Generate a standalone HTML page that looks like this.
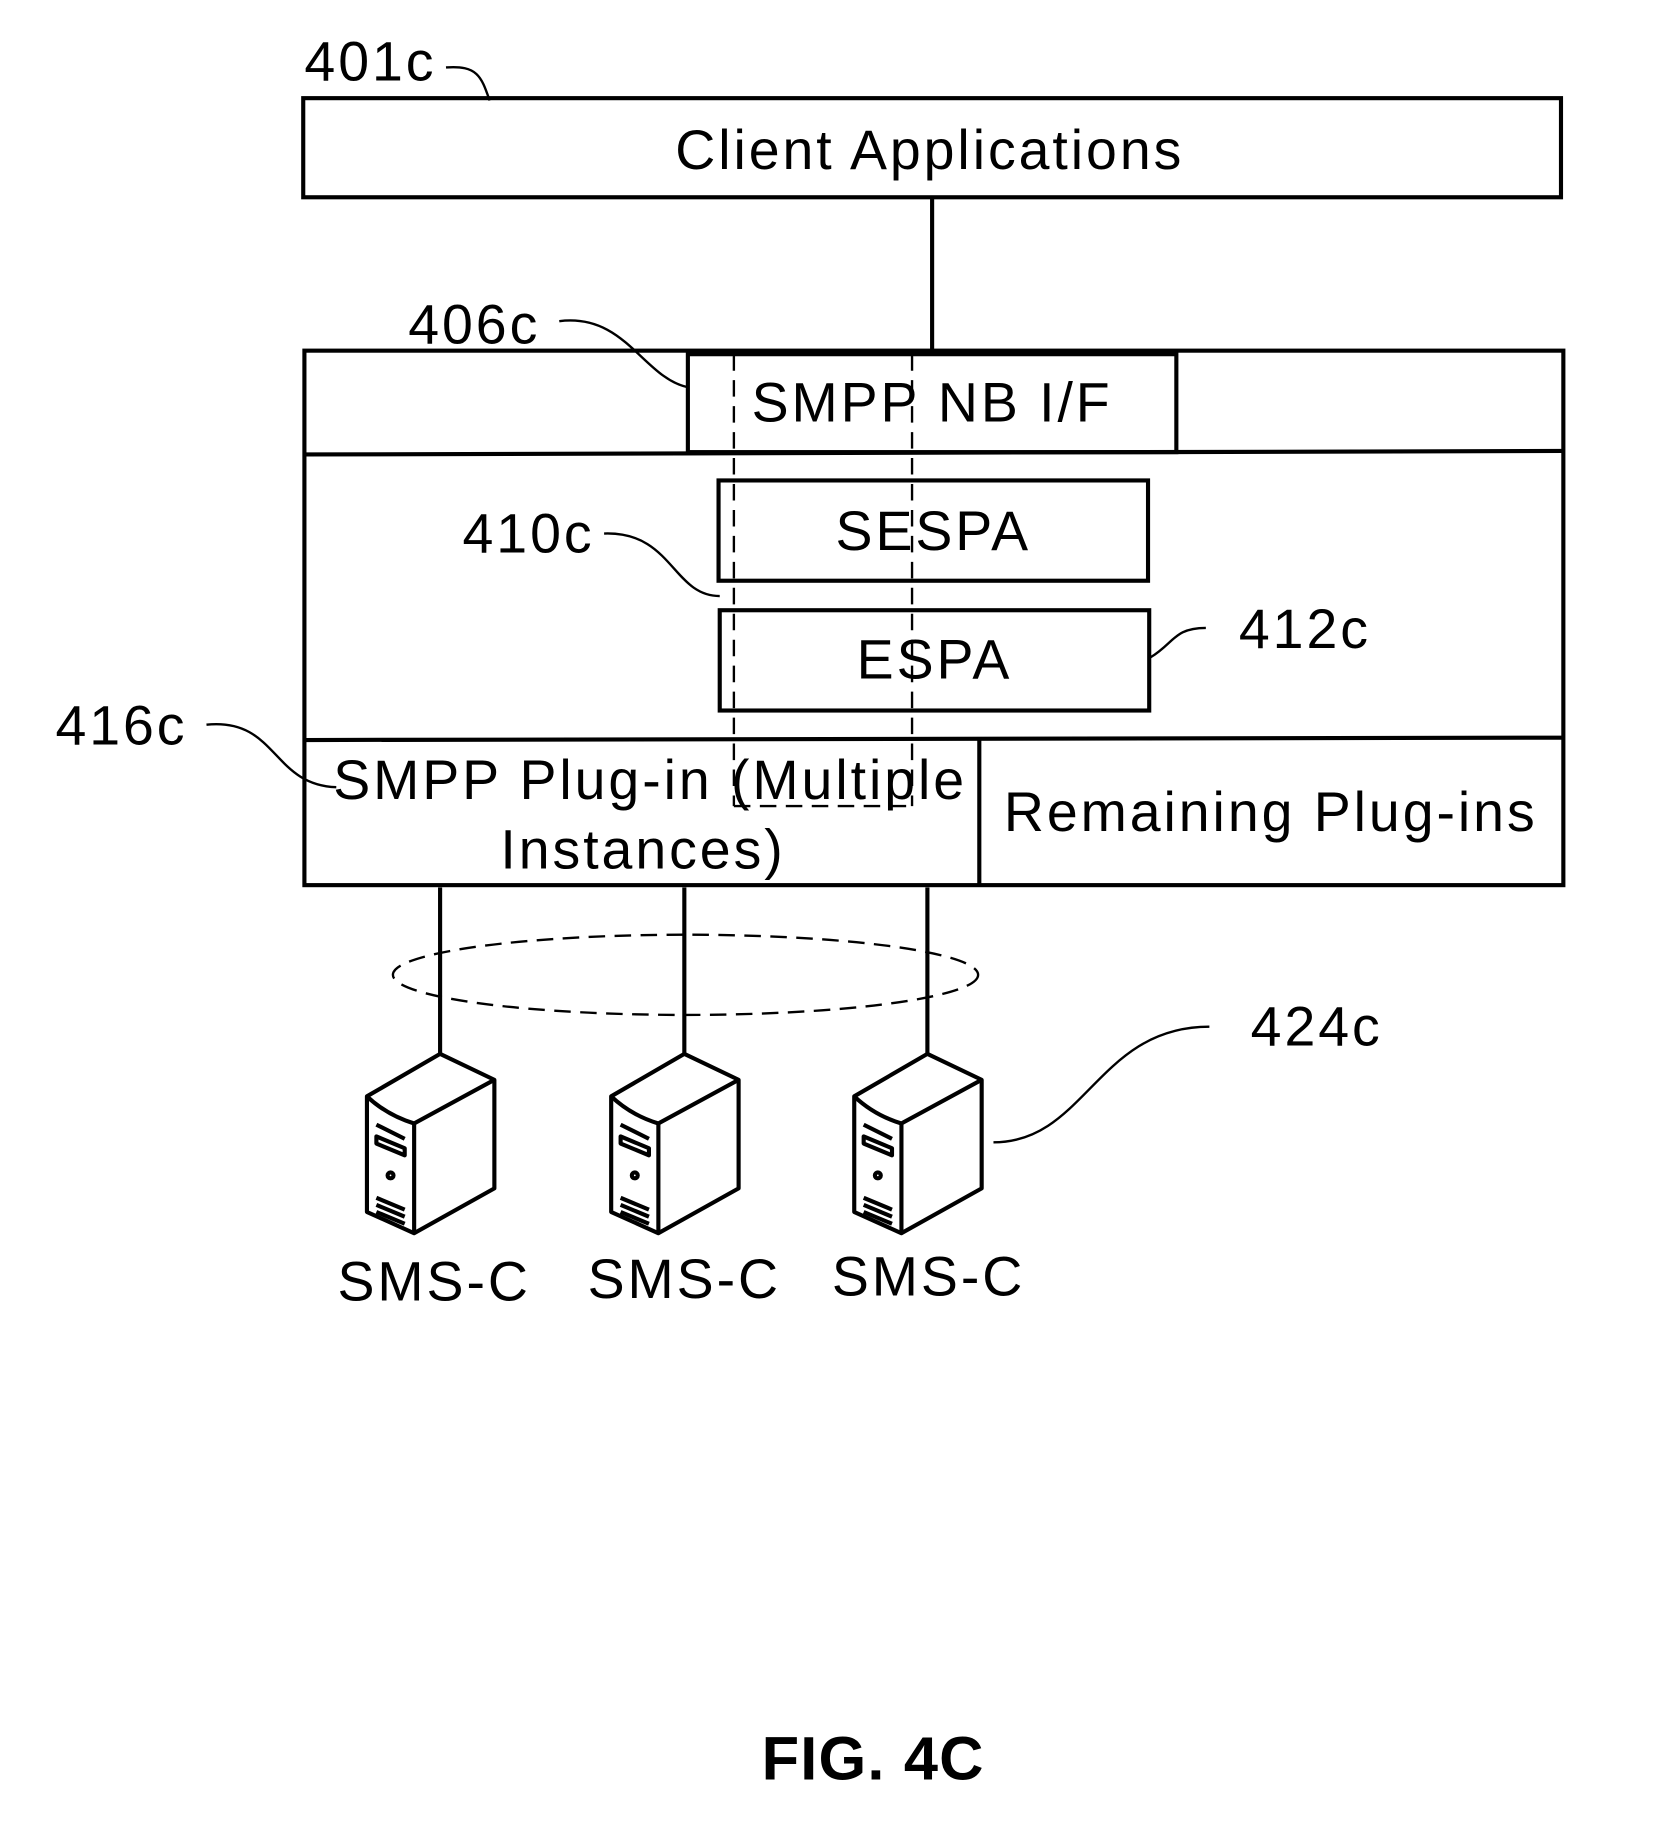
<!DOCTYPE html>
<html><head><style>html,body{margin:0;padding:0;background:#fff}svg{display:block}</style></head>
<body>
<svg width="1666" height="1834" viewBox="0 0 1412 1554" xmlns="http://www.w3.org/2000/svg" font-family="Liberation Sans, sans-serif">
<defs>
<g id="srv" fill="#fff" stroke="#000" stroke-width="3.5" stroke-linejoin="round">
<path d="M0,0 L46,22 L46,114 L-22,152 L-62,134 L-62,36 Z"/>
<path d="M-62,36 Q-45,52 -22,59 L46,22" fill="none"/>
<path d="M-22,59 L-22,152" fill="none"/>
<path d="M-54,60 L-30,72 M-54,70 L-30,80 L-30,86 L-54,76 Z" fill="none"/>
<circle cx="-42" cy="103" r="2.5"/>
<path d="M-54,128 L-30,138 M-54,134 L-30,144 M-54,122 L-30,132" fill="none"/>
</g>
</defs>
<g fill="none" stroke="#000" stroke-width="3.5">
<rect x="257" y="83" width="1066" height="84"/>
<line x1="790" y1="167" x2="790" y2="298"/>
<rect x="258" y="297" width="1067" height="453"/>
<line x1="258" y1="385" x2="1325" y2="382"/>
<rect x="583" y="300" width="414" height="83"/>
<rect x="609" y="407" width="364" height="85"/>
<rect x="610" y="517" width="364" height="85"/>
<line x1="258" y1="627" x2="1325" y2="625"/>
<line x1="830" y1="627" x2="830" y2="750"/>
<line x1="373" y1="752" x2="373" y2="893"/>
<line x1="580" y1="752" x2="580" y2="893"/>
<line x1="786" y1="752" x2="786" y2="893"/>
<g stroke-dasharray="14,8" stroke-width="2">
<line x1="622" y1="300" x2="622" y2="683"/>
<line x1="773" y1="300" x2="773" y2="683"/>
<line x1="622" y1="683" x2="773" y2="683"/>
<ellipse cx="581" cy="826" rx="248" ry="34"/>
</g>
<g stroke-width="2">
<path d="M378,57 C405,55 408,65 415,85"/>
<path d="M474,272 C530,265 545,320 583,328"/>
<path d="M512,452 C570,450 570,505 610,505"/>
<path d="M975,557 C995,545 995,532 1022,532"/>
<path d="M175,614 C235,608 230,665 285,667"/>
<path d="M842,968 C920,968 930,870 1025,870"/>
</g>
</g>
<use href="#srv" x="373" y="893"/>
<use href="#srv" x="580" y="893"/>
<use href="#srv" x="786" y="893"/>
<g font-size="47" fill="#000" letter-spacing="2.5">
<text x="258" y="68">401c</text>
<text x="346" y="291">406c</text>
<text x="392" y="468">410c</text>
<text x="1050" y="549">412c</text>
<text x="47" y="631">416c</text>
<text x="1060" y="886">424c</text>
<g text-anchor="middle">
<text x="788" y="143">Client Applications</text>
<text x="790" y="357">SMPP NB I/F</text>
<text x="791" y="466">SESPA</text>
<text x="792" y="575">ESPA</text>
<text x="551" y="677">SMPP Plug-in (Multiple</text>
<text x="545" y="736">Instances)</text>
<text x="1077" y="704">Remaining Plug-ins</text>
<text x="368" y="1102">SMS-C</text>
<text x="580" y="1100">SMS-C</text>
<text x="787" y="1098">SMS-C</text>
<text x="740" y="1508" font-weight="bold" font-size="52" letter-spacing="1">FIG. 4C</text>
</g>
</g>
</svg>
</body></html>
